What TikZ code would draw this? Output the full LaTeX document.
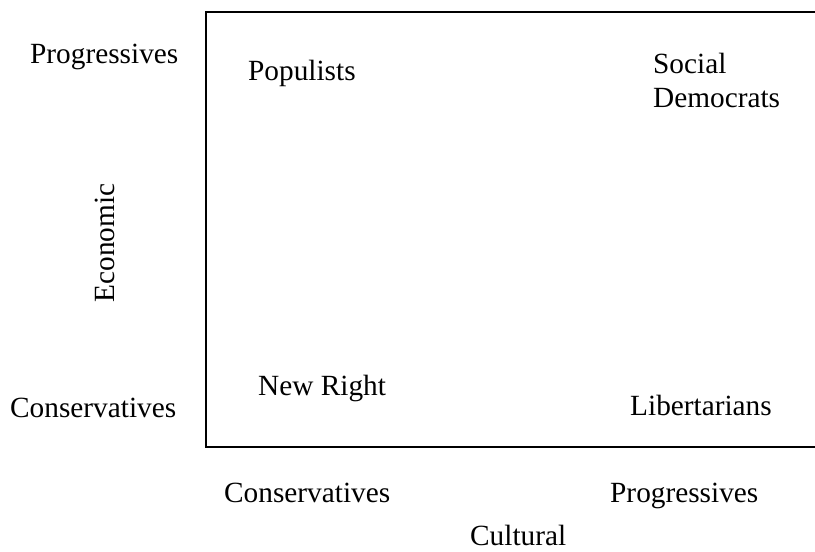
\documentclass[tikz,border=0pt]{standalone}
\usepackage{fontspec}
\setmainfont{Liberation Serif}
\usetikzlibrary{positioning}

\tikzset{
    lbl/.style={inner sep=0,anchor=base west,font=\fontsize{29.3}{34}\selectfont},
}

\begin{document}
\begin{tikzpicture}[x=1pt,y=-1pt]
    \pgfmathsetmacro{\pagewidth}{815}
    \pgfmathsetmacro{\pageheight}{552}
    \pgfmathsetmacro{\boxleft}{206}
    \pgfmathsetmacro{\boxtop}{12}
    \pgfmathsetmacro{\boxbottom}{447}
    \useasboundingbox (0,0) rectangle (\pagewidth,\pageheight);
    % open frame, runs off the right edge
    \draw[line width=2pt] (\pagewidth,\boxtop) -- (\boxleft,\boxtop) -- (\boxleft,\boxbottom) -- (\pagewidth,\boxbottom);
    % quadrants
    \node[lbl] (populists) at (248,80) {Populists};
    \node[lbl,align=left,anchor=north west] (socdem) at (653,53) {Social\\Democrats};
    \node[lbl] (newright) at (258,395) {New Right};
    \node[lbl] (libert) at (630,415) {Libertarians};
    % economic axis
    \node[lbl] (ecoprog) at (30,63) {Progressives};
    \node[lbl] (ecocons) at (10,417) {Conservatives};
    \node[lbl,anchor=center,rotate=90] (eco) at (105,243) {Economic};
    % cultural axis
    \node[lbl] (culcons) at (224,502) {Conservatives};
    \node[lbl] (culprog) at (610,502) {Progressives};
    \node[lbl] (cul) at (470,545) {Cultural};
\end{tikzpicture}
\end{document}
